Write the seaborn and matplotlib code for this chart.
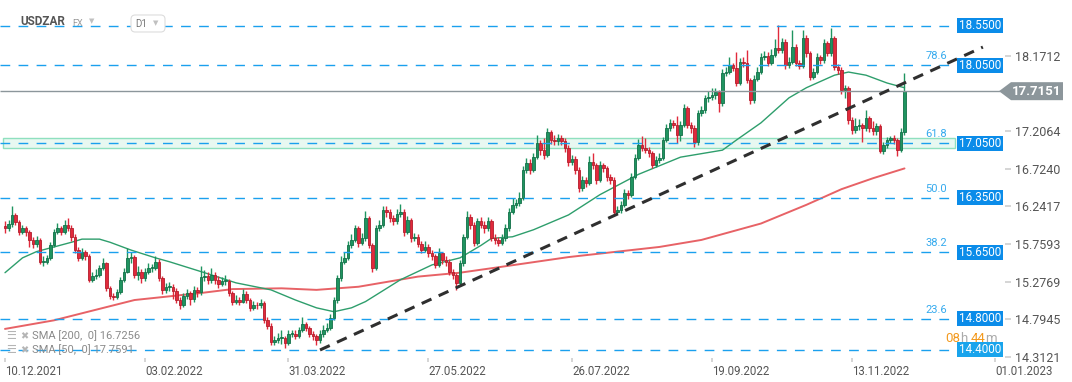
import numpy as np
import pandas as pd
import seaborn as sns
import matplotlib.pyplot as plt
from matplotlib.patches import Polygon, Rectangle, FancyBboxPatch

sns.set_theme(style="white")
plt.rcParams['font.family'] = ['Roboto', 'DejaVu Sans']

# daily USDZAR candles (10.12.2021 - 21.11.2022)
first_open = 15.99
close = [
    15.96, 16.01, 16.13, 16.04, 15.91, 15.96, 15.91, 15.81, 15.76, 15.81,
    15.53, 15.53, 15.58, 15.74, 15.91, 15.96, 15.91, 16.00, 15.96, 15.85,
    15.68, 15.58, 15.65, 15.60, 15.30, 15.35, 15.36, 15.45, 15.51, 15.19,
    15.09, 15.08, 15.14, 15.30, 15.40, 15.58, 15.59, 15.36, 15.40, 15.32,
    15.40, 15.45, 15.45, 15.53, 15.32, 15.17, 15.21, 15.21, 15.16, 15.04,
    14.98, 15.09, 15.13, 15.05, 15.17, 15.14, 15.33, 15.35, 15.30, 15.36,
    15.30, 15.25, 15.28, 15.28, 15.13, 15.02, 15.04, 15.02, 15.12, 15.04,
    14.94, 14.98, 14.97, 15.00, 14.78, 14.71, 14.50, 14.53, 14.55, 14.55,
    14.49, 14.60, 14.61, 14.58, 14.66, 14.73, 14.68, 14.61, 14.58, 14.53,
    14.60, 14.66, 14.68, 14.81, 15.04, 15.32, 15.53, 15.58, 15.74, 15.81,
    15.96, 15.77, 15.83, 16.09, 15.74, 15.45, 15.96, 16.00, 16.19, 16.17,
    16.09, 16.05, 16.14, 16.17, 15.91, 16.06, 15.83, 15.85, 15.76, 15.68,
    15.72, 15.64, 15.60, 15.49, 15.64, 15.55, 15.53, 15.40, 15.36, 15.26,
    15.51, 15.85, 16.10, 16.00, 15.77, 16.05, 16.00, 15.96, 16.05, 15.83,
    15.81, 15.77, 15.83, 15.96, 16.17, 16.26, 16.28, 16.35, 16.71, 16.80,
    16.71, 16.87, 17.05, 16.96, 16.90, 17.19, 17.09, 17.08, 17.11, 17.08,
    16.99, 16.81, 16.84, 16.71, 16.47, 16.58, 16.54, 16.81, 16.77, 16.58,
    16.77, 16.73, 16.62, 16.58, 16.17, 16.19, 16.26, 16.41, 16.39, 16.62,
    16.86, 17.03, 16.99, 16.96, 16.92, 16.77, 16.83, 16.86, 17.09, 17.24,
    17.31, 17.28, 17.15, 17.28, 17.50, 17.28, 17.24, 17.06, 17.44, 17.47,
    17.63, 17.64, 17.67, 17.70, 17.56, 17.95, 17.96, 18.05, 18.01, 17.82,
    18.09, 18.08, 17.86, 17.60, 17.87, 17.96, 18.15, 18.17, 18.08, 18.18,
    18.27, 18.24, 18.35, 18.05, 18.09, 18.28, 18.08, 18.04, 18.40, 18.20,
    17.90, 17.96, 18.15, 18.11, 18.33, 18.20, 18.40, 18.02, 17.99, 17.73,
    17.76, 17.35, 17.22, 17.27, 17.28, 17.24, 17.37, 17.24, 17.20, 17.27,
    16.95, 17.03, 17.09, 17.11, 17.09, 16.96, 17.19, 17.7151,
]
high = [
    16.05, 16.06, 16.24, 16.16, 16.07, 16.00, 15.99, 15.94, 15.85, 15.86,
    15.84, 15.60, 15.62, 15.78, 15.95, 16.03, 15.99, 16.07, 16.09, 16.00,
    15.88, 15.72, 15.70, 15.68, 15.63, 15.40, 15.44, 15.49, 15.58, 15.53,
    15.22, 15.13, 15.18, 15.34, 15.45, 15.70, 15.66, 15.62, 15.48, 15.44,
    15.45, 15.52, 15.50, 15.60, 15.56, 15.35, 15.26, 15.27, 15.25, 15.19,
    15.08, 15.13, 15.18, 15.16, 15.22, 15.21, 15.48, 15.42, 15.40, 15.45,
    15.40, 15.35, 15.33, 15.36, 15.31, 15.16, 15.10, 15.08, 15.18, 15.15,
    15.07, 15.03, 15.02, 15.05, 15.03, 14.82, 14.74, 14.58, 14.62, 14.65,
    14.58, 14.66, 14.66, 14.65, 14.70, 14.82, 14.76, 14.71, 14.64, 14.61,
    14.65, 14.72, 14.74, 14.86, 15.08, 15.36, 15.60, 15.66, 15.80, 15.88,
    16.00, 15.99, 15.90, 16.18, 16.12, 15.77, 16.00, 16.06, 16.24, 16.25,
    16.20, 16.13, 16.20, 16.27, 16.20, 16.11, 16.09, 15.90, 15.88, 15.80,
    15.80, 15.76, 15.68, 15.63, 15.70, 15.66, 15.60, 15.56, 15.44, 15.39,
    15.55, 15.88, 16.18, 16.14, 16.04, 16.09, 16.10, 16.05, 16.10, 16.08,
    15.88, 15.85, 15.88, 16.01, 16.22, 16.35, 16.33, 16.42, 16.76, 16.86,
    16.84, 16.92, 17.16, 17.09, 17.12, 17.24, 17.22, 17.15, 17.17, 17.16,
    17.12, 17.03, 16.90, 16.88, 16.74, 16.63, 16.62, 16.88, 16.92, 16.80,
    16.82, 16.80, 16.76, 16.66, 16.61, 16.25, 16.31, 16.46, 16.45, 16.67,
    16.91, 17.10, 17.14, 17.12, 17.00, 16.95, 16.88, 16.92, 17.13, 17.29,
    17.36, 17.34, 17.40, 17.33, 17.55, 17.53, 17.32, 17.28, 17.48, 17.53,
    17.67, 17.72, 17.75, 17.76, 17.73, 18.00, 18.02, 18.15, 18.08, 18.22,
    18.14, 18.15, 18.24, 17.89, 17.92, 18.02, 18.20, 18.23, 18.22, 18.25,
    18.38, 18.56, 18.40, 18.38, 18.15, 18.50, 18.32, 18.12, 18.50, 18.43,
    18.23, 18.01, 18.20, 18.18, 18.38, 18.36, 18.52, 18.42, 18.06, 18.02,
    17.80, 17.78, 17.38, 17.37, 17.36, 17.31, 17.48, 17.40, 17.33, 17.31,
    17.30, 17.07, 17.13, 17.14, 17.16, 17.12, 17.24, 17.95,
]
low = [
    15.90, 15.92, 15.98, 16.00, 15.87, 15.88, 15.86, 15.72, 15.70, 15.72,
    15.50, 15.48, 15.50, 15.55, 15.72, 15.88, 15.87, 15.88, 15.92, 15.80,
    15.64, 15.54, 15.55, 15.55, 15.27, 15.27, 15.31, 15.33, 15.42, 15.15,
    15.05, 15.04, 15.05, 15.12, 15.27, 15.38, 15.52, 15.32, 15.30, 15.26,
    15.28, 15.37, 15.40, 15.42, 15.28, 15.12, 15.13, 15.16, 15.05, 15.00,
    14.92, 14.95, 15.05, 14.98, 15.02, 15.08, 15.10, 15.28, 15.24, 15.26,
    15.25, 15.20, 15.22, 15.23, 15.09, 14.98, 14.99, 14.97, 15.00, 15.00,
    14.90, 14.91, 14.93, 14.94, 14.75, 14.67, 14.46, 14.47, 14.49, 14.48,
    14.43, 14.46, 14.56, 14.54, 14.55, 14.63, 14.64, 14.57, 14.53, 14.46,
    14.49, 14.57, 14.63, 14.65, 14.78, 15.00, 15.28, 15.50, 15.55, 15.70,
    15.78, 15.72, 15.74, 15.80, 15.70, 15.40, 15.42, 15.92, 15.97, 16.10,
    16.04, 16.00, 16.02, 16.10, 15.86, 15.88, 15.78, 15.79, 15.72, 15.64,
    15.65, 15.59, 15.55, 15.45, 15.46, 15.50, 15.47, 15.36, 15.31, 15.17,
    15.23, 15.48, 15.82, 15.95, 15.73, 15.74, 15.96, 15.90, 15.92, 15.79,
    15.76, 15.73, 15.74, 15.80, 15.93, 16.14, 16.22, 16.25, 16.32, 16.67,
    16.66, 16.68, 16.84, 16.90, 16.85, 16.87, 17.04, 17.02, 17.03, 17.02,
    16.94, 16.76, 16.77, 16.66, 16.42, 16.44, 16.49, 16.51, 16.72, 16.53,
    16.55, 16.68, 16.57, 16.53, 16.13, 16.14, 16.16, 16.23, 16.34, 16.36,
    16.59, 16.83, 16.95, 16.92, 16.87, 16.73, 16.74, 16.80, 16.83, 17.06,
    17.20, 17.24, 17.05, 17.08, 17.25, 17.24, 17.18, 17.00, 17.03, 17.40,
    17.44, 17.58, 17.60, 17.62, 17.45, 17.53, 17.91, 17.93, 17.97, 17.78,
    17.80, 18.03, 17.82, 17.55, 17.57, 17.84, 17.93, 18.11, 18.04, 18.05,
    18.15, 18.20, 18.21, 18.00, 18.01, 18.06, 18.04, 18.00, 18.01, 18.15,
    17.86, 17.87, 17.93, 18.06, 18.08, 18.16, 18.17, 17.98, 17.94, 17.68,
    17.63, 17.30, 17.17, 17.18, 17.22, 17.06, 17.20, 17.19, 17.16, 17.16,
    16.92, 16.91, 16.99, 17.05, 17.04, 16.89, 16.94, 17.16,
]

# moving averages, sampled along the chart (bar index, value)
sma50_bar = [0, 5, 9, 14, 19, 22, 27, 30, 36, 43, 47, 57, 66, 76, 83, 89, 94, 99,
             103, 113, 122, 130, 136, 139, 145, 151, 161, 170, 181, 193, 205, 209,
             216, 224, 229, 237, 241, 246, 252, 257]
sma50_val = [15.39, 15.58, 15.66, 15.72, 15.78, 15.82, 15.82, 15.78, 15.68, 15.58,
             15.53, 15.39, 15.26, 15.17, 15.04, 14.94, 14.89, 14.94, 15.02, 15.30,
             15.49, 15.58, 15.74, 15.83, 15.85, 15.94, 16.13, 16.39, 16.65, 16.87,
             16.96, 17.09, 17.31, 17.63, 17.76, 17.92, 17.96, 17.92, 17.82, 17.7591]
sma200_bar = [0, 14, 37, 56, 65, 79, 89, 101, 118, 130, 141, 161, 179, 187, 199,
              216, 229, 239, 248, 257]
sma200_val = [14.67, 14.78, 15.04, 15.13, 15.18, 15.19, 15.17, 15.21, 15.34, 15.39,
              15.46, 15.59, 15.68, 15.72, 15.81, 16.02, 16.26, 16.46, 16.60, 16.7256]

trend_bar = [90, 279.4]
trend_val = [14.40, 18.28]

levels = [18.55, 18.05, 17.05, 16.35, 15.65, 14.80, 14.40]
fib_levels = [18.05, 17.05, 16.35, 15.65, 14.80]
fib_labels = ["78.6", "61.8", "50.0", "38.2", "23.6"]
zone_low, zone_high = 16.99, 17.115
last_price = 17.7151
price_ticks = [18.1712, 17.2064, 16.7240, 16.2417, 15.7593, 15.2769, 14.7945, 14.3121]
date_bars = [0, 40, 81, 121, 162, 202, 242, 283]
date_labels = ["10.12.2021", "03.02.2022", "31.03.2022", "27.05.2022",
               "26.07.2022", "19.09.2022", "13.11.2022", "01.01.2023"]

df = pd.DataFrame({"close": close, "high": high, "low": low})
df["open"] = [first_open] + close[:-1]
df["bar"] = np.arange(len(df))
df["up"] = df["close"] >= df["open"]

W, H = 1072, 382
fig = plt.figure(figsize=(W / 100, H / 100), dpi=100)
ax = fig.add_axes([0, 24 / H, 1005 / W, 358 / H])
ax.set_xlim(-5 / 3.5, 1000 / 3.5)
ax.set_ylim(14.2974, 18.883)


def px_x(x):
    return (x - 5) / 3.5


def px_y(y):
    return 18.55 - (y - 26) / 78.07


blue = "#1aa0ee"
green_c, green_e = "#1f9460", "#137048"
red_c, red_e = "#e12a3c", "#b31d2c"

# support zone
ax.add_patch(Rectangle((px_x(3), zone_low), px_x(955) - px_x(3), zone_high - zone_low,
                       facecolor="#e8f8f1", edgecolor="#8fe0bf", lw=1, zorder=1))

# moving averages
sns.lineplot(x=sma200_bar, y=sma200_val, ax=ax, color="#e23b40", lw=1.4, alpha=0.8, zorder=2)
sns.lineplot(x=sma50_bar, y=sma50_val, ax=ax, color="#2e9e6c", lw=1.0, zorder=2)

# candles
colors = np.where(df["up"], green_c, red_c)
edges = np.where(df["up"], green_e, red_e)
ax.vlines(df["bar"], df["low"], df["high"], colors=colors, lw=1, zorder=3)
body_lo = df[["open", "close"]].min(axis=1)
body_h = (df["close"] - df["open"]).abs().clip(lower=0.012)
ax.bar(df["bar"], body_h, bottom=body_lo, width=0.74, color=colors,
       edgecolor=edges, linewidth=0.6, zorder=4)

# horizontal levels
ax.hlines(levels, px_x(0), px_x(957), colors=blue, lw=1, linestyles=(0, (7, 6)), zorder=5)
ax.hlines(last_price, px_x(0), px_x(1000), colors="#8c969b", lw=1, zorder=5)

# trendline
ax.plot(trend_bar, trend_val, color="#2f2f2f", lw=2.2, ls=(0, (3.5, 2.6)), zorder=6)

# fib labels
for lv, lab in zip(fib_levels, fib_labels):
    ax.text(px_x(947), lv + 9 / 78.07, lab, color="#35aaee", fontsize=8,
            ha="right", va="center", zorder=7)

# level boxes on the right
for lv in levels:
    fc = "#19a4ec" if lv == 14.40 else "#0b8ce9"
    ax.add_patch(Rectangle((px_x(957), lv - 7.5 / 78.07), px_x(1003) - px_x(957), 15 / 78.07,
                           facecolor=fc, edgecolor="none", zorder=8, clip_on=False))
    ax.text(px_x(980), lv, f"{lv:.4f}", color="white", fontsize=8.4,
            ha="center", va="center", zorder=9)

# current price tag
hh = 9 / 78.07
tag = Polygon([(px_x(999), last_price), (px_x(1011), last_price + hh),
               (px_x(1063), last_price + hh), (px_x(1063), last_price - hh),
               (px_x(1011), last_price - hh)], closed=True,
              facecolor="#8c969b", edgecolor="none", zorder=8, clip_on=False)
ax.add_patch(tag)
ax.text(px_x(1037), last_price, "17.7151", color="white", fontsize=9.5,
        fontweight="bold", ha="center", va="center", zorder=9, clip_on=False)

# axes / ticks
ax.yaxis.tick_right()
ax.set_yticks(price_ticks)
ax.set_yticklabels([f"{t:.4f}" for t in price_ticks])
ax.tick_params(axis="y", length=4, color="#d0d0d0", labelcolor="#555555",
               labelsize=9, pad=3, right=True)
ax.set_xticks(date_bars)
ax.set_xticklabels(date_labels, ha="left")
ax.tick_params(axis="x", length=3, color="#d0d0d0", labelcolor="#555555",
               labelsize=8.3, pad=2, bottom=True)
for s in ax.spines.values():
    s.set_visible(False)
ax.grid(False)

# header
ax.text(px_x(20), px_y(22), "USDZAR", color="#555555", fontsize=8.5,
        fontweight="bold", ha="left", va="center", zorder=9)
ax.text(px_x(72), px_y(24), "FX", color="#9a9a9a", fontsize=6.5, ha="left", va="center", zorder=9)
ax.text(px_x(89), px_y(21), "\u25BC", color="#c0c0c0", fontsize=5,
        ha="left", va="center", zorder=9, family="DejaVu Sans")
ax.add_patch(FancyBboxPatch((px_x(131), px_y(32)), px_x(165) - px_x(131), px_y(15) - px_y(32),
                            boxstyle="round,pad=0,rounding_size=1.2", facecolor="white",
                            edgecolor="#dddddd", lw=0.8, zorder=8,
                            mutation_aspect=1 / 78.07 * 3.5))
ax.text(px_x(135), px_y(24), "D1", color="#777777", fontsize=7, ha="left", va="center", zorder=9)
ax.text(px_x(153), px_y(23), "\u25BC", color="#c0c0c0", fontsize=5,
        ha="left", va="center", zorder=9, family="DejaVu Sans")

# indicator legend
for yy, lab in [(336, "SMA [200,  0] 16.7256"), (350, "SMA [50,  0] 17.7591")]:
    ax.text(px_x(6), px_y(yy), "\u2630", color="#b5b5b5", fontsize=8, ha="left",
            va="center", family="DejaVu Sans", zorder=9)
    ax.text(px_x(20), px_y(yy), "\u2716", color="#b5b5b5", fontsize=7, ha="left",
            va="center", family="DejaVu Sans", zorder=9)
    ax.text(px_x(32), px_y(yy), lab, color="#8a8a8a", fontsize=8, ha="left",
            va="center", zorder=9)

# countdown: pieces chained one after another
prev = ax.text(px_x(945), px_y(342), "08", color="#f39a1f", fontsize=9.5,
               ha="left", va="baseline", zorder=9)
for txt, col, gap in [("h", "#aaaaaa", 0), ("44", "#f39a1f", 2.5), ("m", "#aaaaaa", 0)]:
    prev = ax.annotate(txt, xy=(1, 0), xycoords=prev, xytext=(gap, 0),
                       textcoords="offset points", color=col, fontsize=9.5,
                       ha="left", va="bottom", zorder=9)

fig.savefig("out.png", dpi=100)
